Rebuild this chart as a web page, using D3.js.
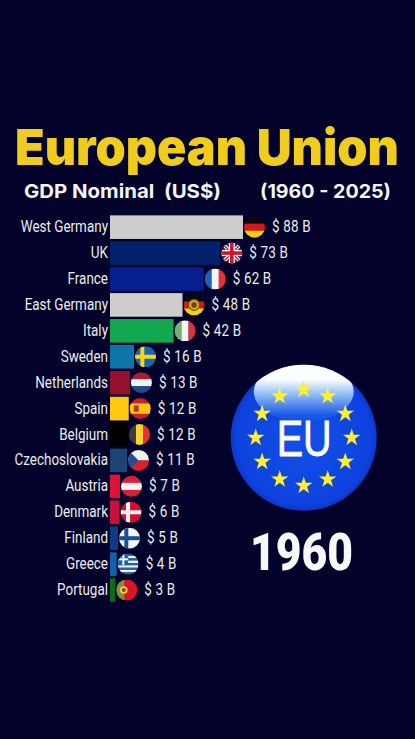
<!DOCTYPE html>
<html><head><meta charset="utf-8">
<script src="https://cdn.jsdelivr.net/npm/d3@7/dist/d3.min.js"></script>
<style>html,body{margin:0;padding:0;background:#02022a}svg{display:block}</style>
</head><body><div id="c"></div>
<script>
const countries = ["West Germany","UK","France","East Germany","Italy","Sweden","Netherlands","Spain","Belgium","Czechoslovakia","Austria","Denmark","Finland","Greece","Portugal"];
const gdpValues = [88,73,62,48,42,15.9,13.2,12.4,11.9,11.3,6.6,6.3,5.3,4.4,3.5];
const valueLabels = ["$ 88 B","$ 73 B","$ 62 B","$ 48 B","$ 42 B","$ 16 B","$ 13 B","$ 12 B","$ 12 B","$ 11 B","$ 7 B","$ 6 B","$ 5 B","$ 4 B","$ 3 B"];
const barColors = ["#cdcdcd","#02216b","#051f8e","#cdcdcd","#12a84f","#0b75a8","#96102e","#fdc80d","#000000","#1d4475","#dc143c","#c8103e","#0f3c80","#1560ae","#0a6a1e"];
const titleText = "European Union";
const subtitleLeft = "GDP Nominal  (US$)";
const subtitleRight = "(1960 - 2025)";
const yearText = "1960";
const logoText = "EU";

const W = 415, H = 739, R = 10.5;
const svg = d3.select("#c").append("svg").attr("width",W).attr("height",H).attr("viewBox",`0 0 ${W} ${H}`);
svg.append("rect").attr("width",W).attr("height",H).attr("fill","#02022a");
const defs = svg.append("defs");

const x = d3.scaleLinear().domain([0,88]).range([110,243]);
const y = d3.scaleBand().domain(countries).range([214.2,603]).paddingInner(0.09).paddingOuter(0.045);

function fitText(sel,width){return sel.attr("textLength",width).attr("lengthAdjust","spacingAndGlyphs");}

fitText(svg.append("text").attr("x",15).attr("y",165).attr("font-family","Inter, Lato").attr("font-weight",900)
  .attr("font-size",50).attr("fill","#f0cc1c").attr("xml:space","preserve").text(titleText),384);
fitText(svg.append("text").attr("x",24).attr("y",198).attr("font-family","Inter, Lato").attr("font-weight",700)
  .attr("font-size",19).attr("fill","#f4f4f4").attr("xml:space","preserve").text(subtitleLeft),197);
fitText(svg.append("text").attr("x",260).attr("y",198).attr("font-family","Inter, Lato").attr("font-weight",700)
  .attr("font-size",19).attr("fill","#f4f4f4").text(subtitleRight),131);

// flags
const hStripes = (g,cs)=>cs.forEach((c,i)=>g.append("rect").attr("x",-R).attr("width",2*R).attr("y",-R+2*R*i/cs.length).attr("height",2*R/cs.length+.2).attr("fill",c));
const vStripes = (g,cs)=>cs.forEach((c,i)=>g.append("rect").attr("y",-R).attr("height",2*R).attr("x",-R+2*R*i/cs.length).attr("width",2*R/cs.length+.2).attr("fill",c));
const nordic = (g,bg,cross,cx=-3)=>{
  g.append("rect").attr("x",-R).attr("y",-R).attr("width",2*R).attr("height",2*R).attr("fill",bg);
  g.append("rect").attr("x",cx-2).attr("y",-R).attr("width",4).attr("height",2*R).attr("fill",cross);
  g.append("rect").attr("x",-R).attr("y",-2).attr("width",2*R).attr("height",4).attr("fill",cross);
};
const flagDrawers = {
  "West Germany": g=>hStripes(g,["#0b0b0b","#d8141c","#fbd20a"]),
  "UK": g=>{
    g.append("rect").attr("x",-R).attr("y",-R).attr("width",2*R).attr("height",2*R).attr("fill","#1c2f72");
    [[ -R,-R,R,R],[-R,R,R,-R]].forEach(l=>{
      g.append("line").attr("x1",l[0]).attr("y1",l[1]).attr("x2",l[2]).attr("y2",l[3]).attr("stroke","#fff").attr("stroke-width",3.6);
      g.append("line").attr("x1",l[0]).attr("y1",l[1]).attr("x2",l[2]).attr("y2",l[3]).attr("stroke","#cf142b").attr("stroke-width",1.4);
    });
    g.append("rect").attr("x",-R).attr("y",-3).attr("width",2*R).attr("height",6).attr("fill","#fff");
    g.append("rect").attr("x",-3).attr("y",-R).attr("width",6).attr("height",2*R).attr("fill","#fff");
    g.append("rect").attr("x",-R).attr("y",-1.8).attr("width",2*R).attr("height",3.6).attr("fill","#cf142b");
    g.append("rect").attr("x",-1.8).attr("y",-R).attr("width",3.6).attr("height",2*R).attr("fill","#cf142b");
  },
  "France": g=>vStripes(g,["#2060b8","#f4f4f4","#e8313c"]),
  "East Germany": g=>{
    hStripes(g,["#0b0b0b","#d8141c","#fbd20a"]);
    g.append("circle").attr("r",5.6).attr("fill","#c9a227").attr("stroke","#6b4a10").attr("stroke-width",1);
    g.append("circle").attr("r",2.6).attr("fill","#7a3a12");
  },
  "Italy": g=>vStripes(g,["#74b26e","#f4f4f4","#d8343f"]),
  "Sweden": g=>nordic(g,"#1369ad","#fcd116",-3.2),
  "Netherlands": g=>hStripes(g,["#a81c34","#f4f4f4","#23468c"]),
  "Spain": g=>{
    g.append("rect").attr("x",-R).attr("y",-R).attr("width",2*R).attr("height",2*R).attr("fill","#c8202a");
    g.append("rect").attr("x",-R).attr("y",-5.2).attr("width",2*R).attr("height",10.4).attr("fill","#fbc40d");
    g.append("rect").attr("x",-6.5).attr("y",-3.4).attr("width",5).attr("height",6.6).attr("rx",1.5).attr("fill","#b4342a");
  },
  "Belgium": g=>vStripes(g,["#3d3d3d","#fbd42a","#e23238"]),
  "Czechoslovakia": g=>{
    hStripes(g,["#f2f2f2","#d8202e"]);
    g.append("path").attr("d",`M${-R},${-R}L0,0L${-R},${R}Z`).attr("fill","#1f4f94");
  },
  "Austria": g=>hStripes(g,["#d8203a","#f4f4f4","#d8203a"]),
  "Denmark": g=>nordic(g,"#d31034","#f4f4f4",-3),
  "Finland": g=>nordic(g,"#f4f4f4","#1a4f94",-3.2),
  "Greece": g=>{
    hStripes(g,["#1d62ad","#f4f4f4","#1d62ad","#f4f4f4","#1d62ad","#f4f4f4","#1d62ad","#f4f4f4","#1d62ad"]);
    g.append("rect").attr("x",-R).attr("y",-R).attr("width",R).attr("height",R*1.1).attr("fill","#1d62ad");
    g.append("rect").attr("x",-R).attr("y",-5.8).attr("width",R).attr("height",2).attr("fill","#f4f4f4");
    g.append("rect").attr("x",-5.8).attr("y",-R).attr("width",2).attr("height",R*1.1).attr("fill","#f4f4f4");
  },
  "Portugal": g=>{
    g.append("rect").attr("x",-R).attr("y",-R).attr("width",2*R).attr("height",2*R).attr("fill","#d8162a");
    g.append("rect").attr("x",-R).attr("y",-R).attr("width",R*.75).attr("height",2*R).attr("fill","#6f9a3c");
    g.append("circle").attr("cx",-3).attr("r",3.8).attr("fill","#f2d23c");
    g.append("circle").attr("cx",-3).attr("r",2).attr("fill","#b82a2a");
  }
};
defs.append("clipPath").attr("id","flagClip").append("circle").attr("r",R);

const rows = svg.append("g").selectAll("g").data(countries).join("g");
rows.append("rect")
  .attr("x",x(0)).attr("y",d=>y(d)).attr("height",y.bandwidth())
  .attr("width",(d,i)=>x(gdpValues[i])-x(0)).attr("fill",(d,i)=>barColors[i]);
rows.append("text")
  .attr("transform",d=>`translate(108,${y(d)+y.bandwidth()/2+5}) scale(.815,1)`)
  .attr("text-anchor","end").attr("font-family","Roboto").attr("font-weight",400).attr("font-size",16.5)
  .attr("fill","#ececec").text(d=>d);
rows.append("text")
  .attr("transform",(d,i)=>`translate(${x(gdpValues[i])+29},${y(d)+y.bandwidth()/2+5}) scale(.815,1)`)
  .attr("font-family","Roboto").attr("font-weight",400).attr("font-size",16.5).attr("letter-spacing",.2)
  .attr("fill","#ececec").text((d,i)=>valueLabels[i]);
rows.append("g")
  .attr("transform",(d,i)=>`translate(${x(gdpValues[i])+11.5},${y(d)+y.bandwidth()/2})`)
  .attr("clip-path","url(#flagClip)")
  .each(function(d){flagDrawers[d](d3.select(this));});

// EU logo
const rg = defs.append("radialGradient").attr("id","eu");
rg.append("stop").attr("offset","0%").attr("stop-color","#1250e6");
rg.append("stop").attr("offset","92%").attr("stop-color","#0e42e0");
rg.append("stop").attr("offset","100%").attr("stop-color","#0c38c8");
const lg = defs.append("linearGradient").attr("id","gloss").attr("x1",0).attr("x2",0).attr("y1",0).attr("y2",1);
lg.append("stop").attr("offset","0%").attr("stop-color","#fff");
lg.append("stop").attr("offset","30%").attr("stop-color","#fbfdff");
lg.append("stop").attr("offset","55%").attr("stop-color","#8fbcf5");
lg.append("stop").attr("offset","88%").attr("stop-color","#1d5ae8");
lg.append("stop").attr("offset","100%").attr("stop-color","#1250e6");
defs.append("clipPath").attr("id","logoClip").append("circle").attr("r",73);
const logo = svg.append("g").attr("transform","translate(303.7,437.7)");
logo.append("circle").attr("r",73).attr("fill","url(#eu)");
logo.append("ellipse").attr("cy",-46).attr("rx",50).attr("ry",30).attr("fill","url(#gloss)").attr("clip-path","url(#logoClip)");
const starAngles = d3.range(12).map(i=>i*30);
const star = d3.symbol().type(d3.symbolStar).size(95);
logo.selectAll("path.star").data(starAngles).join("path").attr("class","star")
  .attr("d",star).attr("fill","#fdf02e")
  .attr("transform",a=>`translate(${48*Math.sin(a*Math.PI/180)},${-48*Math.cos(a*Math.PI/180)})`);
fitText(logo.append("text").attr("x",-27).attr("y",18).attr("font-family","Liberation Sans").attr("font-size",50).attr("stroke","#fff").attr("stroke-width",.8).attr("fill","#fff").text(logoText),55);

fitText(svg.append("text").attr("x",250).attr("y",570).attr("font-family","Roboto").attr("font-weight",900)
  .attr("font-size",52).attr("fill","#f8f8f8").text(yearText),103);
</script></body></html>
